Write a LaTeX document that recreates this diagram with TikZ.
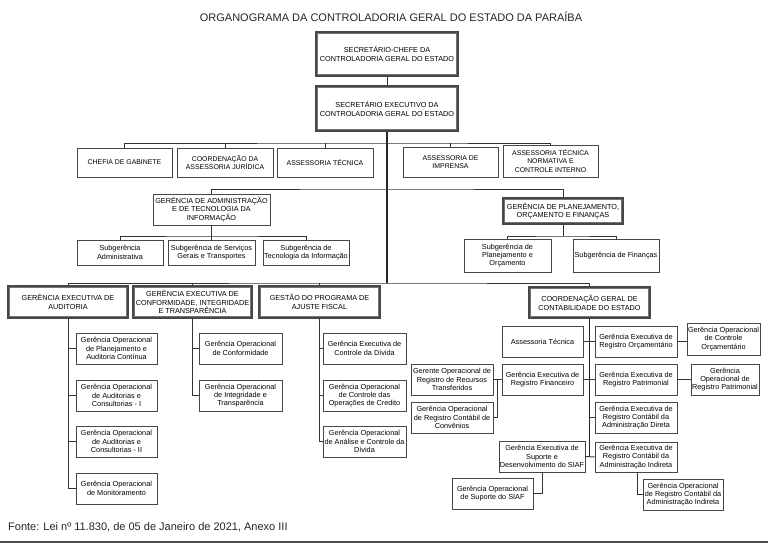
\documentclass[tikz,border=0pt]{standalone}
\usepackage{fontspec}
\setmainfont{Liberation Sans}
\begin{document}
\begin{tikzpicture}[x=1pt,y=-1pt,
  bx/.style={draw=black!72, line width=0.9pt, fill=white, inner sep=0pt, align=center, text=black, font=\fontsize{7.3}{8.3}\selectfont},
  capf/.style={font=\fontsize{7.25}{8.8}\selectfont},
  capt/.style={font=\fontsize{6.9}{8.2}\selectfont},
  dbl/.style={draw=black!72, line width=1.4pt},
  inbox/.style={draw=black!55, line width=0.7pt},
  ln/.style={draw=black!80, line width=1.0pt},
  trunk/.style={draw=black!85, line width=1.4pt}]
\useasboundingbox (0,0) rectangle (768,544);
\fill[white] (0,0) rectangle (768,544);

\node[font=\fontsize{11}{13}\selectfont, text=black!85] (title) at (391,17) {ORGANOGRAMA DA CONTROLADORIA GERAL DO ESTADO DA PARAÍBA};

% top
\node[bx,capf,dbl,minimum width=142pt,minimum height=44pt] (top1) at (387,54) {SECRETÁRIO-CHEFE DA\\CONTROLADORIA GERAL DO ESTADO};
\node[bx,capf,dbl,minimum width=142pt,minimum height=45pt] (top2) at (387,108.5) {SECRETÁRIO EXECUTIVO DA\\CONTROLADORIA GERAL DO ESTADO};

% level 3
\node[bx,capt,minimum width=95pt,minimum height=29pt] (chefia) at (124.5,162.5) {CHEFIA DE GABINETE};
\node[bx,capt,minimum width=96pt,minimum height=29pt] (coord) at (225,162.5) {COORDENAÇÃO DA\\ASSESSORIA JURÍDICA};
\node[bx,capt,minimum width=96pt,minimum height=29pt] (asstec) at (325,162.5) {ASSESSORIA TÉCNICA};
\node[bx,capt,minimum width=95pt,minimum height=30pt] (impr) at (450.5,162) {ASSESSORIA DE\\IMPRENSA};
\node[bx,capt,minimum width=95pt,minimum height=32pt] (atnci) at (550.5,161) {ASSESSORIA TÉCNICA\\NORMATIVA E\\CONTROLE INTERNO};

% level 4
\node[bx,capf,minimum width=117pt,minimum height=31pt] (gati) at (211.5,209.5) {GERÊNCIA DE ADMINISTRAÇÃO\\E DE TECNOLOGIA DA\\INFORMAÇÃO};
\node[bx,capf,dbl,minimum width=120pt,minimum height=26pt] (gpof) at (563,211) {GERÊNCIA DE PLANEJAMENTO,\\ORÇAMENTO E FINANÇAS};

% subgerencias
\node[bx,minimum width=86pt,minimum height=25pt] (subadm) at (120,252.5) {Subgerência\\Administrativa};
\node[bx,minimum width=87pt,minimum height=25pt] (subsgt) at (211.5,252.5) {Subgerência de Serviços\\Gerais e Transportes};
\node[bx,minimum width=86pt,minimum height=25pt] (subti) at (306,252.5) {Subgerência de\\Tecnologia da Informação};
\node[bx,minimum width=87pt,minimum height=33pt] (subpo) at (507.5,255.5) {Subgerência de\\Planejamento e\\Orçamento};
\node[bx,minimum width=86pt,minimum height=33pt] (subfin) at (616,255.5) {Subgerência de Finanças};

% level 5
\node[bx,capf,dbl,minimum width=120pt,minimum height=32pt] (gea) at (68,302) {GERÊNCIA EXECUTIVA DE\\AUDITORIA};
\node[bx,capf,dbl,minimum width=119pt,minimum height=32pt] (gecit) at (192.5,302) {GERÊNCIA EXECUTIVA DE\\CONFORMIDADE, INTEGRIDADE\\E TRANSPARÊNCIA};
\node[bx,capf,dbl,minimum width=121pt,minimum height=32pt] (gpaf) at (319.5,302) {GESTÃO DO PROGRAMA DE\\AJUSTE FISCAL};
\node[bx,capf,dbl,minimum width=121pt,minimum height=31pt] (cgce) at (589.5,302.5) {COORDENAÇÃO GERAL DE\\CONTABILIDADE DO ESTADO};

\foreach \n in {top1,top2,gpof,gea,gecit,gpaf,cgce}
  \draw[inbox] ([shift={(2.4,2.4)}]\n.north west) rectangle ([shift={(-2.4,-2.4)}]\n.south east);

% auditoria column
\node[bx,minimum width=81pt,minimum height=31pt] (go1) at (116.5,348.5) {Gerência Operacional\\de Planejamento e\\Auditoria Contínua};
\node[bx,minimum width=81pt,minimum height=31pt] (go2) at (116.5,395.5) {Gerência Operacional\\de Auditorias e\\Consultorias - I};
\node[bx,minimum width=81pt,minimum height=31pt] (go3) at (116.5,441.5) {Gerência Operacional\\de Auditorias e\\Consultorias - II};
\node[bx,minimum width=81pt,minimum height=31pt] (go4) at (116.5,488.5) {Gerência Operacional\\de Monitoramento};

% conformidade column
\node[bx,minimum width=83pt,minimum height=31pt] (goc) at (240.5,348.5) {Gerência Operacional\\de Conformidade};
\node[bx,minimum width=83pt,minimum height=31pt] (goit) at (240.5,395.5) {Gerência Operacional\\de Integridade e\\Transparência};

% gestao column
\node[bx,minimum width=83pt,minimum height=31pt] (gecd) at (364.5,348.5) {Gerência Executiva de\\Controle da Dívida};
\node[bx,minimum width=83pt,minimum height=31pt] (gococ) at (364.5,395.5) {Gerência Operacional\\de Controle das\\Operações de Credito};
\node[bx,minimum width=83pt,minimum height=31pt] (goacd) at (364.5,441.5) {Gerência Operacional\\de Análise e Controle da\\Dívida};

% contabilidade
\node[bx,minimum width=81pt,minimum height=31pt] (at2) at (542.5,341.5) {Assessoria Técnica};
\node[bx,minimum width=82pt,minimum height=31pt] (gero) at (636,341.5) {Gerência Executiva de\\Registro Orçamentário};
\node[bx,minimum width=73pt,minimum height=32pt] (goco) at (723.5,339) {Gerência Operacional\\de Controle\\Orçamentário};
\node[bx,minimum width=81pt,minimum height=31pt] (gerf) at (542.5,379.5) {Gerência Executiva de\\Registro Financeiro};
\node[bx,minimum width=82pt,minimum height=31pt] (gerp) at (636,379.5) {Gerência Executiva de\\Registro Patrimonial};
\node[bx,minimum width=68pt,minimum height=31pt] (gorp) at (725,379.5) {Gerência\\Operacional de\\Registro Patrimonial};
\node[bx,minimum width=82pt,minimum height=31pt] (gorrt) at (452,379.5) {Gerente Operacional de\\Registro de Recursos\\Transferidos};
\node[bx,minimum width=82pt,minimum height=31pt] (gorcc) at (452,417.5) {Gerência Operacional\\de Registro Contábil de\\Convênios};
\node[bx,minimum width=82pt,minimum height=31pt] (gercad) at (636,417.5) {Gerência Executiva de\\Registro Contábil da\\Administração Direta};
\node[bx,minimum width=86pt,minimum height=31pt] (gesd) at (542,456.5) {Gerência Executiva de\\Suporte e\\Desenvolvimento do SIAF};
\node[bx,minimum width=82pt,minimum height=30pt] (gercai) at (636,457) {Gerência Executiva de\\Registro Contábil da\\Administração Indireta};
\node[bx,minimum width=81pt,minimum height=31pt] (gosiaf) at (492.5,493.5) {Gerência Operacional\\de Suporte do SIAF};
\node[bx,minimum width=80pt,minimum height=31pt] (gorcai) at (683,494.5) {Gerência Operacional\\de Registro Contábil da\\Administração Indireta};

\node[font=\fontsize{11}{13}\selectfont, text=black!85, anchor=west, inner sep=0pt] (fonte) at (8,527) {Fonte: Lei nº 11.830, de 05 de Janeiro de 2021, Anexo III};

% junction coordinates
\coordinate (j3) at (387,143);
\coordinate (j4) at (387,189);
\coordinate (j5) at (387,283);
\coordinate (s4) at (211.5,236);
\coordinate (s5) at (563,236);
\coordinate (cj) at (589.5,457);
\coordinate (brk) at (497.5,379.5);
\coordinate (ci) at (637,472);
\coordinate (bl) at (0,542);
\coordinate (br) at (768,542);

% connectors
\draw[ln] (top1) -- (top2);
\draw[trunk] (top2.south) -- (j5);
\draw[ln] (chefia.north) |- (j3) -| (atnci.north);
\draw[ln] (coord.north) -- (coord.north |- j3);
\draw[ln] (asstec.north) -- (asstec.north |- j3);
\draw[ln] (impr.north) -- (impr.north |- j3);
\draw[ln] (gati.north) |- (j4) -| (gpof.north);
\draw[ln] (gati.south) -- (s4);
\draw[ln] (subadm.north) |- (s4) -| (subti.north);
\draw[ln] (subsgt.north) -- (s4);
\draw[ln] (gpof.south) -- (s5);
\draw[ln] (subpo.north) |- (s5) -| (subfin.north);
\draw[ln] (gea.north) |- (j5) -| (cgce.north);
\draw[ln] (gecit.north) -- (gecit.north |- j5);
\draw[ln] (gpaf.north) -- (gpaf.north |- j5);

\draw[ln] (gea.south) |- (go4.west);
\draw[ln] (gea.south) |- (go1.west);
\draw[ln] (gea.south) |- (go2.west);
\draw[ln] (gea.south) |- (go3.west);
\draw[ln] (gecit.south) |- (goit.west);
\draw[ln] (gecit.south) |- (goc.west);
\draw[ln] (gpaf.south) |- (goacd.west);
\draw[ln] (gpaf.south) |- (gecd.west);
\draw[ln] (gpaf.south) |- (gococ.west);

\draw[trunk] (cgce.south) -- (cj);
\draw[ln] (at2.east) -- (gero.west);
\draw[ln] (gero.east) -- (gero.east -| goco.west);
\draw[ln] (gerf.east) -- (gerp.west);
\draw[ln] (gerp.east) -- (gorp.west);
\draw[ln] (gercad.west) -- (gercad.west -| cj);
\draw[ln] (gesd.east) -- (gercai.west);
\draw[ln] (gorrt.east) -- (gerf.west);
\draw[ln] (brk) |- (gorcc.east);
\draw[ln] (gesd.south) |- (gosiaf.east);
\draw[ln] (ci) |- (gorcai.west);

\draw[draw=black!70, line width=1.3pt] (bl) -- (br);
\end{tikzpicture}
\end{document}
